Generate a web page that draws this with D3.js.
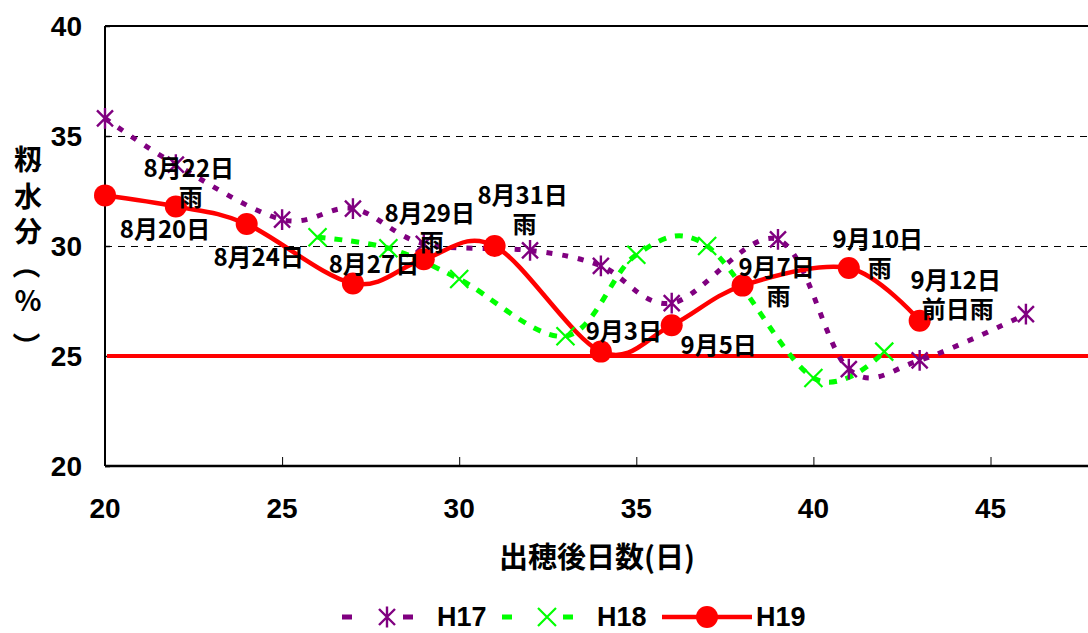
<!DOCTYPE html>
<html>
<head>
<meta charset="utf-8">
<script src="https://cdn.jsdelivr.net/npm/d3@7"></script>
<style>
  html, body { margin: 0; padding: 0; background: #fff; }
  svg { display: block; }
</style>
</head>
<body>
<svg id="chart" width="1088" height="633"></svg>
<script>
// 出穂後日数ごとの籾水分 (%)
const daysH17 = [20, 22, 25, 27, 29, 32, 34, 36, 39, 41, 43, 46];
const moistH17 = [35.8, 33.7, 31.2, 31.7, 30.1, 29.8, 29.1, 27.4, 30.3, 24.4, 24.8, 26.9];

const daysH18 = [26, 28, 30, 33, 35, 37, 40, 42];
const moistH18 = [30.4, 29.9, 28.5, 25.9, 29.6, 30.0, 24.0, 25.2];

const daysH19 = [20, 22, 24, 27, 29, 31, 34, 36, 38, 41, 43];
const moistH19 = [32.3, 31.8, 31.0, 28.3, 29.4, 30.0, 25.2, 26.4, 28.2, 29.0, 26.6];

// H19 の各点に付ける日付・天候
const notesH19 = [
  ["8月20日"], ["8月22日", "雨"], ["8月24日"], ["8月27日"], ["8月29日", "雨"],
  ["8月31日", "雨"], ["9月3日"], ["9月5日"], ["9月7日", "雨"], ["9月10日", "雨"],
  ["9月12日", "前日雨"]
];

const xTicks = [20, 25, 30, 35, 40, 45];
const yTicks = [20, 25, 30, 35, 40];
const gridValues = [30, 35];
const targetMoisture = 25;
const seriesNames = ["H17", "H18", "H19"];

// ---- layout ----
const W = 1088, H = 633;
const svg = d3.select("#chart");
const x = d3.scaleLinear().domain([20, 45]).range([105, 990.5]);
const y = d3.scaleLinear().domain([20, 40]).range([466, 26]);
const plotRight = W;

const COL17 = "#800080", COL18 = "#00ff00", COL19 = "#ff0000";
const numFont = "'Liberation Sans', Arial, sans-serif";
const cjkFont = "'Noto Sans CJK JP', 'Noto Sans', sans-serif";

// label offsets (px) from each H19 point: [dx, dy of first line]
const noteOffsets = [
  [60, 32], [13, -40], [12, 31], [21, -21], [6, -48],
  [28, -53], [23, -23], [47, 18], [34, -21], [29, -31], [36, -43]
];

// gridlines
svg.append("g").selectAll("line").data(gridValues).join("line")
  .attr("x1", x(20)).attr("x2", plotRight)
  .attr("y1", d => y(d)).attr("y2", d => y(d))
  .attr("stroke", "#000").attr("stroke-width", 1)
  .attr("shape-rendering", "crispEdges")
  .attr("stroke-dasharray", "7,6");

// frame top
svg.append("line").attr("x1", x(20)).attr("x2", plotRight).attr("y1", y(40)).attr("y2", y(40))
  .attr("stroke", "#000").attr("stroke-width", 2);

// axes (ticks drawn inward)
const xAxis = d3.axisBottom(x).tickValues(xTicks).tickSize(-9).tickFormat("");
svg.append("g").attr("transform", `translate(0,${y(20)})`).call(xAxis)
  .call(g => g.select(".domain").attr("d", `M${x(20)},0H${plotRight}`).attr("stroke-width", 2.5))
  .call(g => g.selectAll(".tick line").attr("stroke-width", 1));

const yAxis = d3.axisLeft(y).tickValues(yTicks).tickSize(-5).tickFormat("");
svg.append("g").attr("transform", `translate(${x(20)},0)`).call(yAxis)
  .call(g => g.select(".domain").attr("d", `M0,${y(40)}V${y(20)}`).attr("stroke-width", 2))
  .call(g => g.selectAll(".tick line").attr("stroke-width", 1.5));

// tick labels
svg.append("g").selectAll("text").data(xTicks).join("text")
  .attr("x", d => x(d)).attr("y", 508)
  .attr("text-anchor", "middle").attr("dominant-baseline", "central")
  .style("font-family", numFont).style("font-size", "28px").style("font-weight", "bold")
  .text(d => d);
svg.append("g").selectAll("text").data(yTicks).join("text")
  .attr("x", 82).attr("y", d => y(d))
  .attr("text-anchor", "end").attr("dominant-baseline", "central")
  .style("font-family", numFont).style("font-size", "28px").style("font-weight", "bold")
  .text(d => d);

// axis titles
svg.append("text")
  .attr("x", 597).attr("y", 555)
  .attr("text-anchor", "middle").attr("dominant-baseline", "central")
  .style("font-family", cjkFont).style("font-size", "29px").style("font-weight", "bold")
  .text("出穂後日数(日)");

// vertical title 籾水分（%）: one glyph per row, brackets turned for vertical setting
const yTitle = ["籾", "水", "分", "（", "%", "）"];
const yTitleY = [158, 195, 230, 265, 299, 346];
const yt = svg.append("g")
  .style("font-family", cjkFont).style("font-size", "28px").style("font-weight", "bold");
yTitle.forEach((ch, i) => {
  const t = yt.append("text")
    .attr("text-anchor", "middle").attr("dominant-baseline", "central")
    .text(ch);
  if (ch === "（" || ch === "）") {
    t.attr("transform", `translate(27,${yTitleY[i]}) rotate(90)`);
  } else {
    t.attr("x", 28).attr("y", yTitleY[i]);
  }
});

// target line at 25 %
svg.append("line")
  .attr("x1", x(20) + 2).attr("x2", plotRight)
  .attr("y1", y(targetMoisture)).attr("y2", y(targetMoisture))
  .attr("stroke", COL19).attr("stroke-width", 4);

// series lines
const curve = d3.curveCardinal.tension(0);
const lineGen = d3.line().x(d => x(d[0])).y(d => y(d[1])).curve(curve);
const s17 = daysH17.map((d, i) => [d, moistH17[i]]);
const s18 = daysH18.map((d, i) => [d, moistH18[i]]);
const s19 = daysH19.map((d, i) => [d, moistH19[i]]);

svg.append("path").datum(s17).attr("d", lineGen)
  .attr("fill", "none").attr("stroke", COL17).attr("stroke-width", 5)
  .attr("stroke-dasharray", "6,10");
svg.append("path").datum(s18).attr("d", lineGen)
  .attr("fill", "none").attr("stroke", COL18).attr("stroke-width", 5)
  .attr("stroke-dasharray", "8,9");
svg.append("path").datum(s19).attr("d", lineGen)
  .attr("fill", "none").attr("stroke", COL19).attr("stroke-width", 4.5);

// markers
function starMarker(g, cx, cy, r, col) {
  g.append("path")
    .attr("d", `M${cx - r},${cy - r}L${cx + r},${cy + r}M${cx - r},${cy + r}L${cx + r},${cy - r}M${cx},${cy - r * 1.3}L${cx},${cy + r * 1.3}`)
    .attr("stroke", col).attr("stroke-width", 2.4).attr("fill", "none");
}
function crossMarker(g, cx, cy, r, col) {
  g.append("path")
    .attr("d", `M${cx - r},${cy - r}L${cx + r},${cy + r}M${cx - r},${cy + r}L${cx + r},${cy - r}`)
    .attr("stroke", col).attr("stroke-width", 2.2).attr("fill", "none");
}
const m17 = svg.append("g");
s17.forEach(p => starMarker(m17, x(p[0]), y(p[1]), 8, COL17));
const m18 = svg.append("g");
s18.forEach(p => crossMarker(m18, x(p[0]), y(p[1]), 9, COL18));
svg.append("g").selectAll("circle").data(s19).join("circle")
  .attr("cx", d => x(d[0])).attr("cy", d => y(d[1])).attr("r", 11)
  .attr("fill", COL19);

// date / weather notes (second line = weather)
const notes = svg.append("g")
  .style("font-family", cjkFont).style("font-size", "24px").style("font-weight", "bold");
s19.forEach((p, i) => {
  const [dx, dy] = noteOffsets[i];
  const cx = x(p[0]) + dx;
  const t = notes.append("text")
    .attr("x", cx).attr("y", y(p[1]) + dy)
    .attr("text-anchor", "middle").attr("dominant-baseline", "central");
  notesH19[i].forEach((line, k) => {
    t.append("tspan")
      .attr("x", cx + (k ? 2 : 0))
      .attr("dy", k ? 29 : 0)
      .text(line);
  });
});

// legend
const leg = svg.append("g");
const legY = 617;
const legendItems = [
  { name: seriesNames[0], col: COL17, x0: 342, x1: 413, mx: 387, tx: 437, kind: "star" },
  { name: seriesNames[1], col: COL18, x0: 502, x1: 573, mx: 547, tx: 597, kind: "cross" },
  { name: seriesNames[2], col: COL19, x0: 662, x1: 752, mx: 707, tx: 756, kind: "circle" }
];
legendItems.forEach(it => {
  const ln = leg.append("line")
    .attr("x1", it.x0).attr("x2", it.x1).attr("y1", legY).attr("y2", legY)
    .attr("stroke", it.col).attr("stroke-width", it.kind === "circle" ? 4.5 : 5);
  if (it.kind !== "circle") ln.attr("stroke-dasharray", "10,51");
  if (it.kind === "star") starMarker(leg, it.mx, legY, 8, it.col);
  else if (it.kind === "cross") crossMarker(leg, it.mx, legY, 9, it.col);
  else leg.append("circle").attr("cx", it.mx).attr("cy", legY).attr("r", 11).attr("fill", it.col);
  leg.append("text")
    .attr("x", it.tx).attr("y", legY)
    .attr("dominant-baseline", "central")
    .style("font-family", numFont).style("font-size", "27px").style("font-weight", "bold")
    .text(it.name);
});
</script>
</body>
</html>
